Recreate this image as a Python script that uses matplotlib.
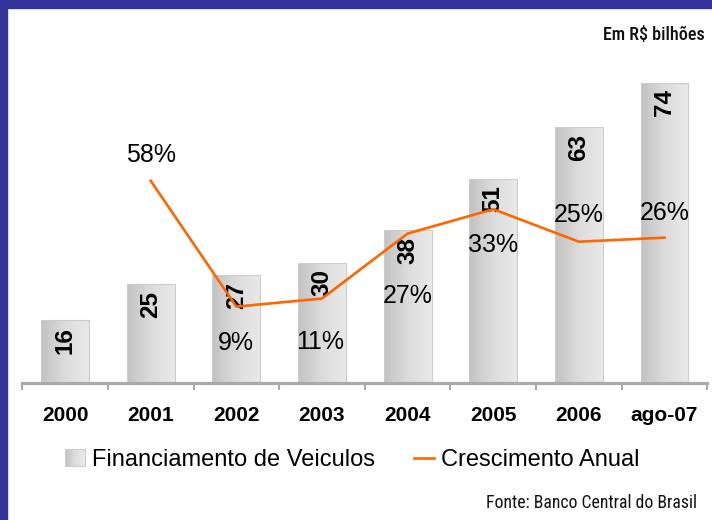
import numpy as np
import matplotlib
matplotlib.use("Agg")
import matplotlib.pyplot as plt
from matplotlib import font_manager
from matplotlib.patches import Rectangle
from matplotlib.lines import Line2D
from matplotlib.legend_handler import HandlerBase

# ---------------- data ----------------
categories = ["2000", "2001", "2002", "2003", "2004", "2005", "2006", "ago-07"]
financing = [15.3, 24.4, 26.6, 29.6, 37.7, 50.3, 63.1, 74.0]          # R$ bilhões (bar heights)
financing_labels = ["16", "25", "27", "30", "38", "51", "63", "74"]
growth_x = [1, 2, 3, 4, 5, 6, 7]
growth = [40.0, 9.0, 11.0, 27.0, 33.0, 25.0, 26.0]                    # plotted line position (%)
growth_labels = ["58%", "9%", "11%", "27%", "33%", "25%", "26%"]

# ---------------- styling / layout ----------------
names = {f.name for f in font_manager.fontManager.ttflist}
MAIN = "Liberation Sans" if "Liberation Sans" in names else "DejaVu Sans"
NARROW = MAIN
for cand in ["Liberation Sans Narrow", "Roboto Condensed", "DejaVu Sans Condensed"]:
    if cand in names:
        NARROW = cand
        break
plt.rcParams["font.family"] = [MAIN, "DejaVu Sans"]

W, H, DPI = 712, 520, 100
fig = plt.figure(figsize=(W / DPI, H / DPI), dpi=DPI, facecolor="white")

def fx(px):
    return px / W

def fy(py):
    return 1 - py / H

ax_left, ax_right, ax_bottom, ax_top = 22.3, 707.3, 382.5, 58.2
ax = fig.add_axes([fx(ax_left), fy(ax_bottom), fx(ax_right - ax_left), (ax_bottom - ax_top) / H])
ax.set_facecolor("none")

x = np.arange(len(categories))
bars = ax.bar(x, financing, width=0.56, color="none", edgecolor="#cccccc", linewidth=0.8, zorder=2)

# gradient fill clipped to each bar
grad = np.linspace(0, 1, 256).reshape(1, -1)
cmap = matplotlib.colors.LinearSegmentedColormap.from_list("g", ["#c2c2c2", "#dcdcdc", "#e9e9e9"])
for b in bars:
    x0, y0, w, h = b.get_x(), b.get_y(), b.get_width(), b.get_height()
    im = ax.imshow(grad, cmap=cmap, aspect="auto", extent=[x0, x0 + w, y0, y0 + h], zorder=1.5,
                   interpolation="bilinear")
    im.set_clip_path(b)

ax.set_xlim(-0.5, len(categories) - 0.5)
ax.set_ylim(0, 80)

# bar labels
for xi, v, lab in zip(x, financing, financing_labels):
    ax.annotate(lab, (xi, v), xytext=(0, -5), textcoords="offset points",
                rotation=90, ha="center", va="top", fontsize=17.5, fontweight="bold",
                color="black", zorder=3)

# axes decoration
for s in ["left", "right", "top"]:
    ax.spines[s].set_visible(False)
ax.spines["bottom"].set_color("#aaaaaa")
ax.spines["bottom"].set_linewidth(2.3)
ax.set_yticks([])
ax.set_xticks(x)
ax.set_xticklabels(categories, fontsize=15, fontweight="bold")
ax.tick_params(axis="x", which="major", length=0, pad=17)
ax.set_xticks(np.arange(-0.5, len(categories), 1.0), minor=True)
ax.tick_params(axis="x", which="minor", length=5, width=1.5, color="#aaaaaa", direction="out")

# secondary axis for growth line
ax2 = ax.twinx()
ax2.set_ylim(-9.68, 70.2)
ax2.axis("off")
ax2.plot(growth_x, growth, color="#ff6600", linewidth=1.9, zorder=4)
label_offsets_px = [(0, 26), (0, -36), (-2, -43), (0, -62), (0, -36), (0, 27), (0, 25)]
for xi, v, lab, (dx, dy) in zip(growth_x, growth, growth_labels, label_offsets_px):
    ax2.annotate(lab, (xi, v), xytext=(dx * 0.72, dy * 0.72), textcoords="offset points",
                 ha="center", va="center", fontsize=18, color="black", zorder=5)

# legend with gradient patch handle
class GradientHandler(HandlerBase):
    def create_artists(self, legend, orig_handle, xdescent, ydescent, width, height, fontsize, trans):
        arts = []
        n = 12
        for i in range(n):
            c = cmap(i / (n - 1))
            arts.append(Rectangle((-xdescent + width * i / n, -ydescent), width / n + 0.01, height,
                                  facecolor=c, edgecolor="none", transform=trans))
        arts.append(Rectangle((-xdescent, -ydescent), width, height, facecolor="none",
                              edgecolor="#cccccc", linewidth=0.8, transform=trans))
        return arts

bar_handle = Rectangle((0, 0), 1, 1)
line_handle = Line2D([], [], color="#ff6600", linewidth=1.9)
leg = fig.legend([bar_handle, line_handle], ["Financiamento de Veiculos", "Crescimento Anual"],
                 handler_map={Rectangle: GradientHandler()},
                 loc="center left", bbox_to_anchor=(fx(65), fy(460)), ncol=2, frameon=False,
                 fontsize=17, handlelength=0.85, handleheight=0.7, handletextpad=0.3,
                 columnspacing=1.65, borderpad=0, borderaxespad=0)

# texts
fig.text(fx(705), fy(35), "Em R$ bilhões", ha="right", va="center", fontsize=13,
         family=[NARROW, "DejaVu Sans"], color="#111111", fontweight="medium")
fig.text(fx(697), fy(503), "Fonte: Banco Central do Brasil", ha="right", va="center", fontsize=12.7,
         family=[NARROW, "DejaVu Sans"], color="#111111")

# blue frame (top and left)
fig.patches.append(Rectangle((0, fy(8)), 1, 8 / H, transform=fig.transFigure, color="#333399", zorder=10))
fig.patches.append(Rectangle((0, 0), 7 / W, 1, transform=fig.transFigure, color="#333399", zorder=10))

fig.savefig("out.png", dpi=DPI, facecolor="white")
